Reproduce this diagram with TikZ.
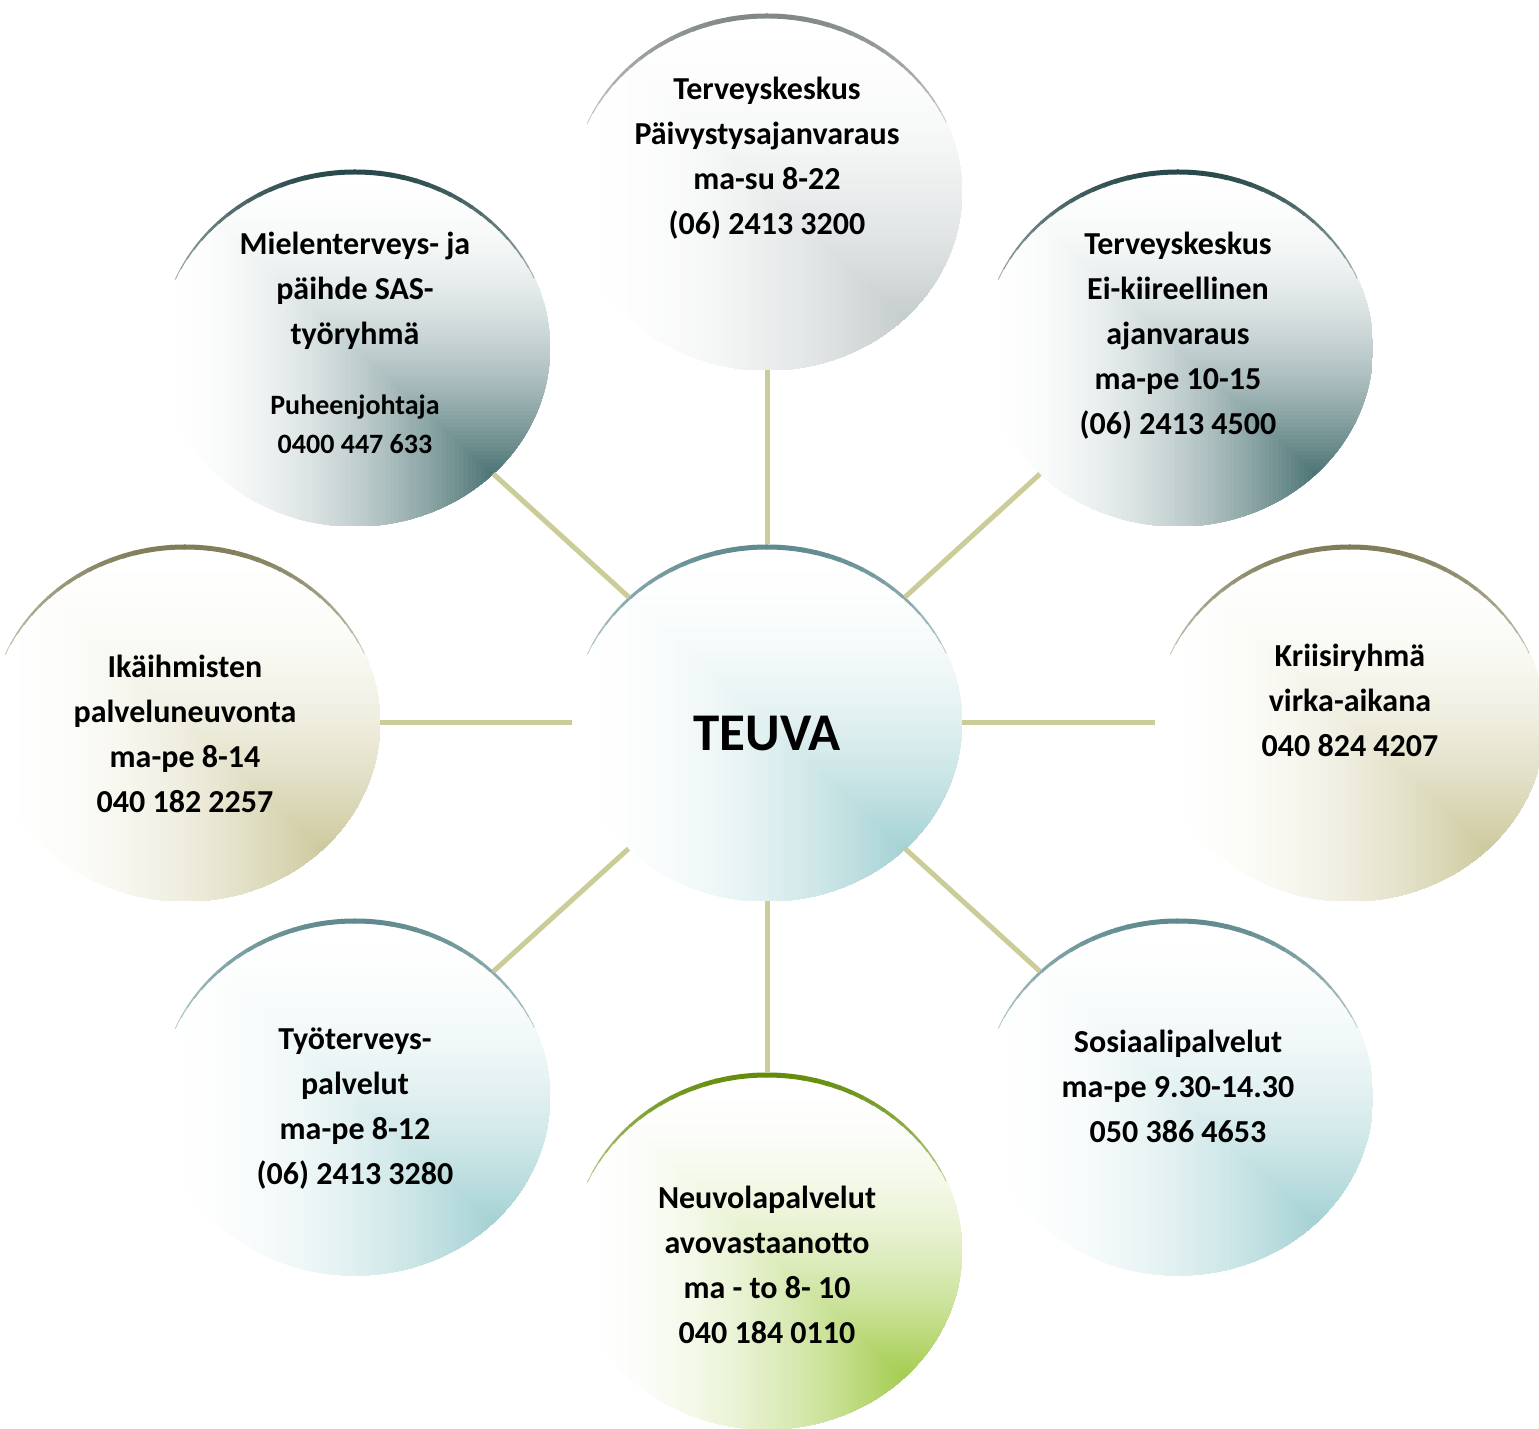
\documentclass[tikz,border=0pt]{standalone}
\usepackage{fontspec}
\setmainfont{Carlito}
\usetikzlibrary{shapes.geometric,calc}
\definecolor{linkc}{RGB}{204,204,153}
\definecolor{tealC}{RGB}{165,210,212}
\definecolor{tealA}{RGB}{95,138,142}
\definecolor{slateC}{RGB}{78,117,118}
\definecolor{slateA}{RGB}{40,72,74}
\definecolor{grayC}{RGB}{198,205,205}
\definecolor{grayA}{RGB}{130,135,135}
\definecolor{oliveC}{RGB}{206,202,158}
\definecolor{oliveA}{RGB}{128,124,88}
\definecolor{greenC}{RGB}{165,205,80}
\definecolor{greenA}{RGB}{100,140,10}
\tikzset{
  bub/.style 2 args={ellipse, minimum width=390pt, minimum height=357pt, inner sep=0pt, outer sep=0pt,
    path picture={
      \foreach \i in {90,89,...,1}{
        \pgfmathsetmacro\bubT{\i/90}
        \pgfmathsetmacro\bubP{100*min(1,((1-(\i-0.5)/90)/0.85)^2)}
        \fill[#1!\bubP!white] (path picture bounding box.south east) rectangle ($(path picture bounding box.south east)!\bubT!(path picture bounding box.north west)$);
      }
      \foreach \k in {0,...,35}{
        \pgfmathsetmacro\bubA{23+\k*134/36}
        \pgfmathsetmacro\bubB{\bubA+134/36+0.4}
        \pgfmathsetmacro\bubS{(sin(\bubA+67/36)-sin(23))/(1-sin(23))}
        \pgfmathsetlengthmacro\bubW{(1+9*\bubS)*1pt}
        \pgfmathsetmacro\bubQ{45+55*\bubS}
        \draw[line width=\bubW, #2!\bubQ!white] ([shift={(\bubA:195pt and 178.5pt)}]path picture bounding box.center) arc[start angle=\bubA, end angle=\bubB, x radius=195pt, y radius=178.5pt];
      }
    }},
  txt/.style={align=center, font=\fontsize{32}{45}\selectfont\bfseries, inner sep=0pt},
  subtxt/.style={align=center, font=\fontsize{28}{39}\selectfont\bfseries, inner sep=0pt},
  bigtxt/.style={align=center, font=\fontsize{53}{60}\selectfont\bfseries, inner sep=0pt},
  link/.style={draw=linkc, line width=5pt}
}
\begin{document}
\begin{tikzpicture}[x=1pt,y=1pt]
\useasboundingbox[fill=white] (0,0) rectangle (1539,1428);
\node[bub={tealC}{tealA}] (C) at (767,705) {};
\node[bub={grayC}{grayA}] (T) at (767,1236) {};
\node[bub={slateC}{slateA}] (TL) at (355,1080) {};
\node[bub={slateC}{slateA}] (TR) at (1178,1080) {};
\node[bub={oliveC}{oliveA}] (L) at (185,705) {};
\node[bub={oliveC}{oliveA}] (R) at (1350,705) {};
\node[bub={tealC}{tealA}] (BL) at (355,331) {};
\node[bub={tealC}{tealA}] (BR) at (1178,331) {};
\node[bub={greenC}{greenA}] (B) at (767,177) {};

\node[bigtxt] (tC) at (767,694.5) {TEUVA};
\node[txt] (tT) at (767,1270) {Terveyskeskus\\Päivystysajanvaraus\\ma-su 8-22\\(06) 2413 3200};
\node[txt] (tTL) at (355,1137) {Mielenterveys- ja\\päihde SAS-\\työryhmä};
\node[subtxt] (tTL2) at (355,1003.5) {Puheenjohtaja\\0400 447 633};
\node[txt] (tTR) at (1178,1092) {Terveyskeskus\\Ei-kiireellinen\\ajanvaraus\\ma-pe 10-15\\(06) 2413 4500};
\node[txt] (tL) at (185,694.5) {Ikäihmisten\\palveluneuvonta\\ma-pe 8-14\\040 182 2257};
\node[txt] (tR) at (1350,728) {Kriisiryhmä\\virka-aikana\\040 824 4207};
\node[txt] (tBL) at (355,319.5) {Työterveys-\\palvelut\\ma-pe 8-12\\(06) 2413 3280};
\node[txt] (tBR) at (1178,342) {Sosiaalipalvelut\\ma-pe 9.30-14.30\\050 386 4653};
\node[txt] (tB) at (767,163.5) {Neuvolapalvelut\\avovastaanotto\\ma - to 8- 10\\040 184 0110};

\draw[link] (C) -- (T);
\draw[link] (C) -- (TL);
\draw[link] (C) -- (TR);
\draw[link] (C) -- (L);
\draw[link] (C) -- (R);
\draw[link] (C) -- (BL);
\draw[link] (C) -- (BR);
\draw[link] (C) -- (B);
\end{tikzpicture}
\end{document}
